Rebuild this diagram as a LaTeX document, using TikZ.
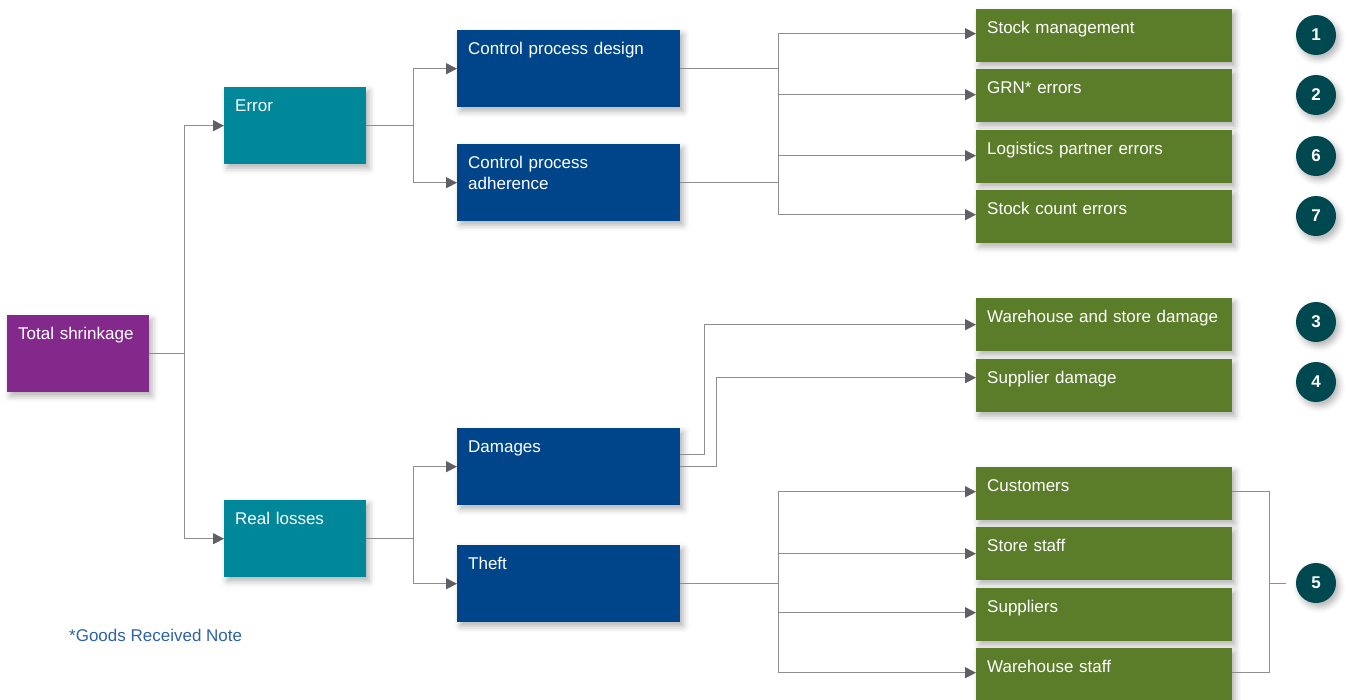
\documentclass[tikz,border=0pt]{standalone}
\usepackage{fontspec}
\setmainfont{Liberation Sans}
\usetikzlibrary{arrows.meta,shadows.blur,calc}
\definecolor{cpurple}{HTML}{83298C}
\definecolor{cteal}{HTML}{00879A}
\definecolor{cblue}{HTML}{00458A}
\definecolor{cgreen}{HTML}{5B7D2A}
\definecolor{ccirc}{HTML}{00484F}
\definecolor{cline}{HTML}{8E8E92}
\definecolor{carrow}{HTML}{5F6066}
\definecolor{cfoot}{HTML}{2D62A6}
\begin{document}
\begin{tikzpicture}[x=1pt,y=-1pt,
  shad/.style={blur shadow={shadow xshift=3pt,shadow yshift=-4pt,shadow blur radius=6pt,shadow opacity=30}},
  base/.style={anchor=north west, inner xsep=11pt, inner ysep=12pt, text=white, align=left,
    font=\fontsize{17}{21}\selectfont, text height=12pt, shad},
  bigbox/.style={base, text width=120pt, text depth=41pt},
  midbox/.style={base, text width=201pt, text depth=41pt, fill=cblue},
  greenbox/.style={base, text width=234pt, text depth=17pt, fill=cgreen},
  circ/.style={circle, fill=ccirc, minimum size=40pt, inner sep=0pt, text=white,
    font=\bfseries\fontsize{17}{17}\selectfont, shad},
  ln/.style={draw=cline, line width=1pt},
  arr/.style={ln, -{Triangle[length=11pt,width=11pt,color=carrow,fill=carrow]}}
]
\useasboundingbox (0,0) rectangle (1348,699);
% boxes
\node[bigbox, fill=cpurple] (ts) at (7,315) {Total shrinkage};
\node[bigbox, fill=cteal] (err) at (224,87) {Error};
\node[bigbox, fill=cteal] (rl) at (224,500) {Real losses};
\node[midbox] (cpd) at (457,30) {Control process design};
\node[midbox] (cpa) at (457,144) {Control process\\adherence};
\node[midbox] (dm) at (457,428) {Damages};
\node[midbox] (th) at (457,545) {Theft};
\node[greenbox] (sm) at (976,9) {Stock management};
\node[greenbox] (grn) at (976,69) {GRN* errors};
\node[greenbox] (lp) at (976,130) {Logistics partner errors};
\node[greenbox] (sc) at (976,190) {Stock count errors};
\node[greenbox] (wsd) at (976,298) {Warehouse and store damage};
\node[greenbox] (sd) at (976,359) {Supplier damage};
\node[greenbox] (cu) at (976,467) {Customers};
\node[greenbox] (ss) at (976,527) {Store staff};
\node[greenbox] (su) at (976,588) {Suppliers};
\node[greenbox] (ws) at (976,648) {Warehouse staff};
% circles
\node[circ] (c1) at (1316,35) {1};
\node[circ] (c2) at (1316,95) {2};
\node[circ] (c6) at (1316,156) {6};
\node[circ] (c7) at (1316,216) {7};
\node[circ] (c3) at (1316,322) {3};
\node[circ] (c4) at (1316,382) {4};
\node[circ] (c5) at (1316,583) {5};
% footnote
\node[anchor=west, text=cfoot, font=\fontsize{17}{20}\selectfont, inner sep=0pt] (fn) at (69,635) {*Goods Received Note};
% junction coordinates
\coordinate (j1) at (184,0);
\coordinate (j2) at (413,0);
\coordinate (j3) at (778,0);
\coordinate (j4) at (704,0);
\coordinate (j5) at (716,0);
\coordinate (jb) at (1269,0);
% total shrinkage
\draw[ln] (ts.east) -- (ts.east -| j1);
\draw[arr] (ts.east -| j1) |- (err.west);
\draw[arr] (ts.east -| j1) |- (rl.west);
% error
\draw[ln] (err.east) -- (err.east -| j2);
\draw[arr] (err.east -| j2) |- (cpd.west);
\draw[arr] (err.east -| j2) |- (cpa.west);
% real losses
\draw[ln] (rl.east) -- (rl.east -| j2);
\draw[arr] (rl.east -| j2) |- (dm.west);
\draw[arr] (rl.east -| j2) |- (th.west);
% control process -> errors
\draw[ln] (cpd.east) -- (cpd.east -| j3);
\draw[ln] (cpa.east) -- (cpa.east -| j3);
\draw[ln] ([yshift=2pt]sm.west -| j3) -- ([yshift=2pt]sc.west -| j3);
\draw[arr] ([yshift=2pt]sm.west -| j3) -- ([yshift=2pt]sm.west);
\draw[arr] ([yshift=1pt]grn.west -| j3) -- ([yshift=1pt]grn.west);
\draw[arr] ([yshift=1pt]lp.west -| j3) -- ([yshift=1pt]lp.west);
\draw[arr] ([yshift=2pt]sc.west -| j3) -- ([yshift=2pt]sc.west);
% damages
\draw[arr] ([yshift=12pt]dm.east) -- ([yshift=12pt]dm.east -| j4) |- (wsd.west);
\draw[arr] (dm.east) -- (dm.east -| j5) |- ([yshift=8pt]sd.west);
% theft
\draw[ln] (th.east) -- (th.east -| j3);
\draw[ln] ([yshift=2pt]cu.west -| j3) -- ([yshift=2pt]ws.west -| j3);
\draw[arr] ([yshift=2pt]cu.west -| j3) -- ([yshift=2pt]cu.west);
\draw[arr] (ss.west -| j3) -- (ss.west);
\draw[arr] ([yshift=2pt]su.west -| j3) -- ([yshift=2pt]su.west);
\draw[arr] ([yshift=2pt]ws.west -| j3) -- ([yshift=2pt]ws.west);
% bracket to 5
\draw[ln] ([yshift=2pt]cu.east) -- ([yshift=2pt]cu.east -| jb) -- ([yshift=2pt]ws.east -| jb) -- ([yshift=2pt]ws.east);
\draw[ln] (c5.center -| jb) -- ([xshift=-10pt]c5.west);
\end{tikzpicture}
\end{document}
